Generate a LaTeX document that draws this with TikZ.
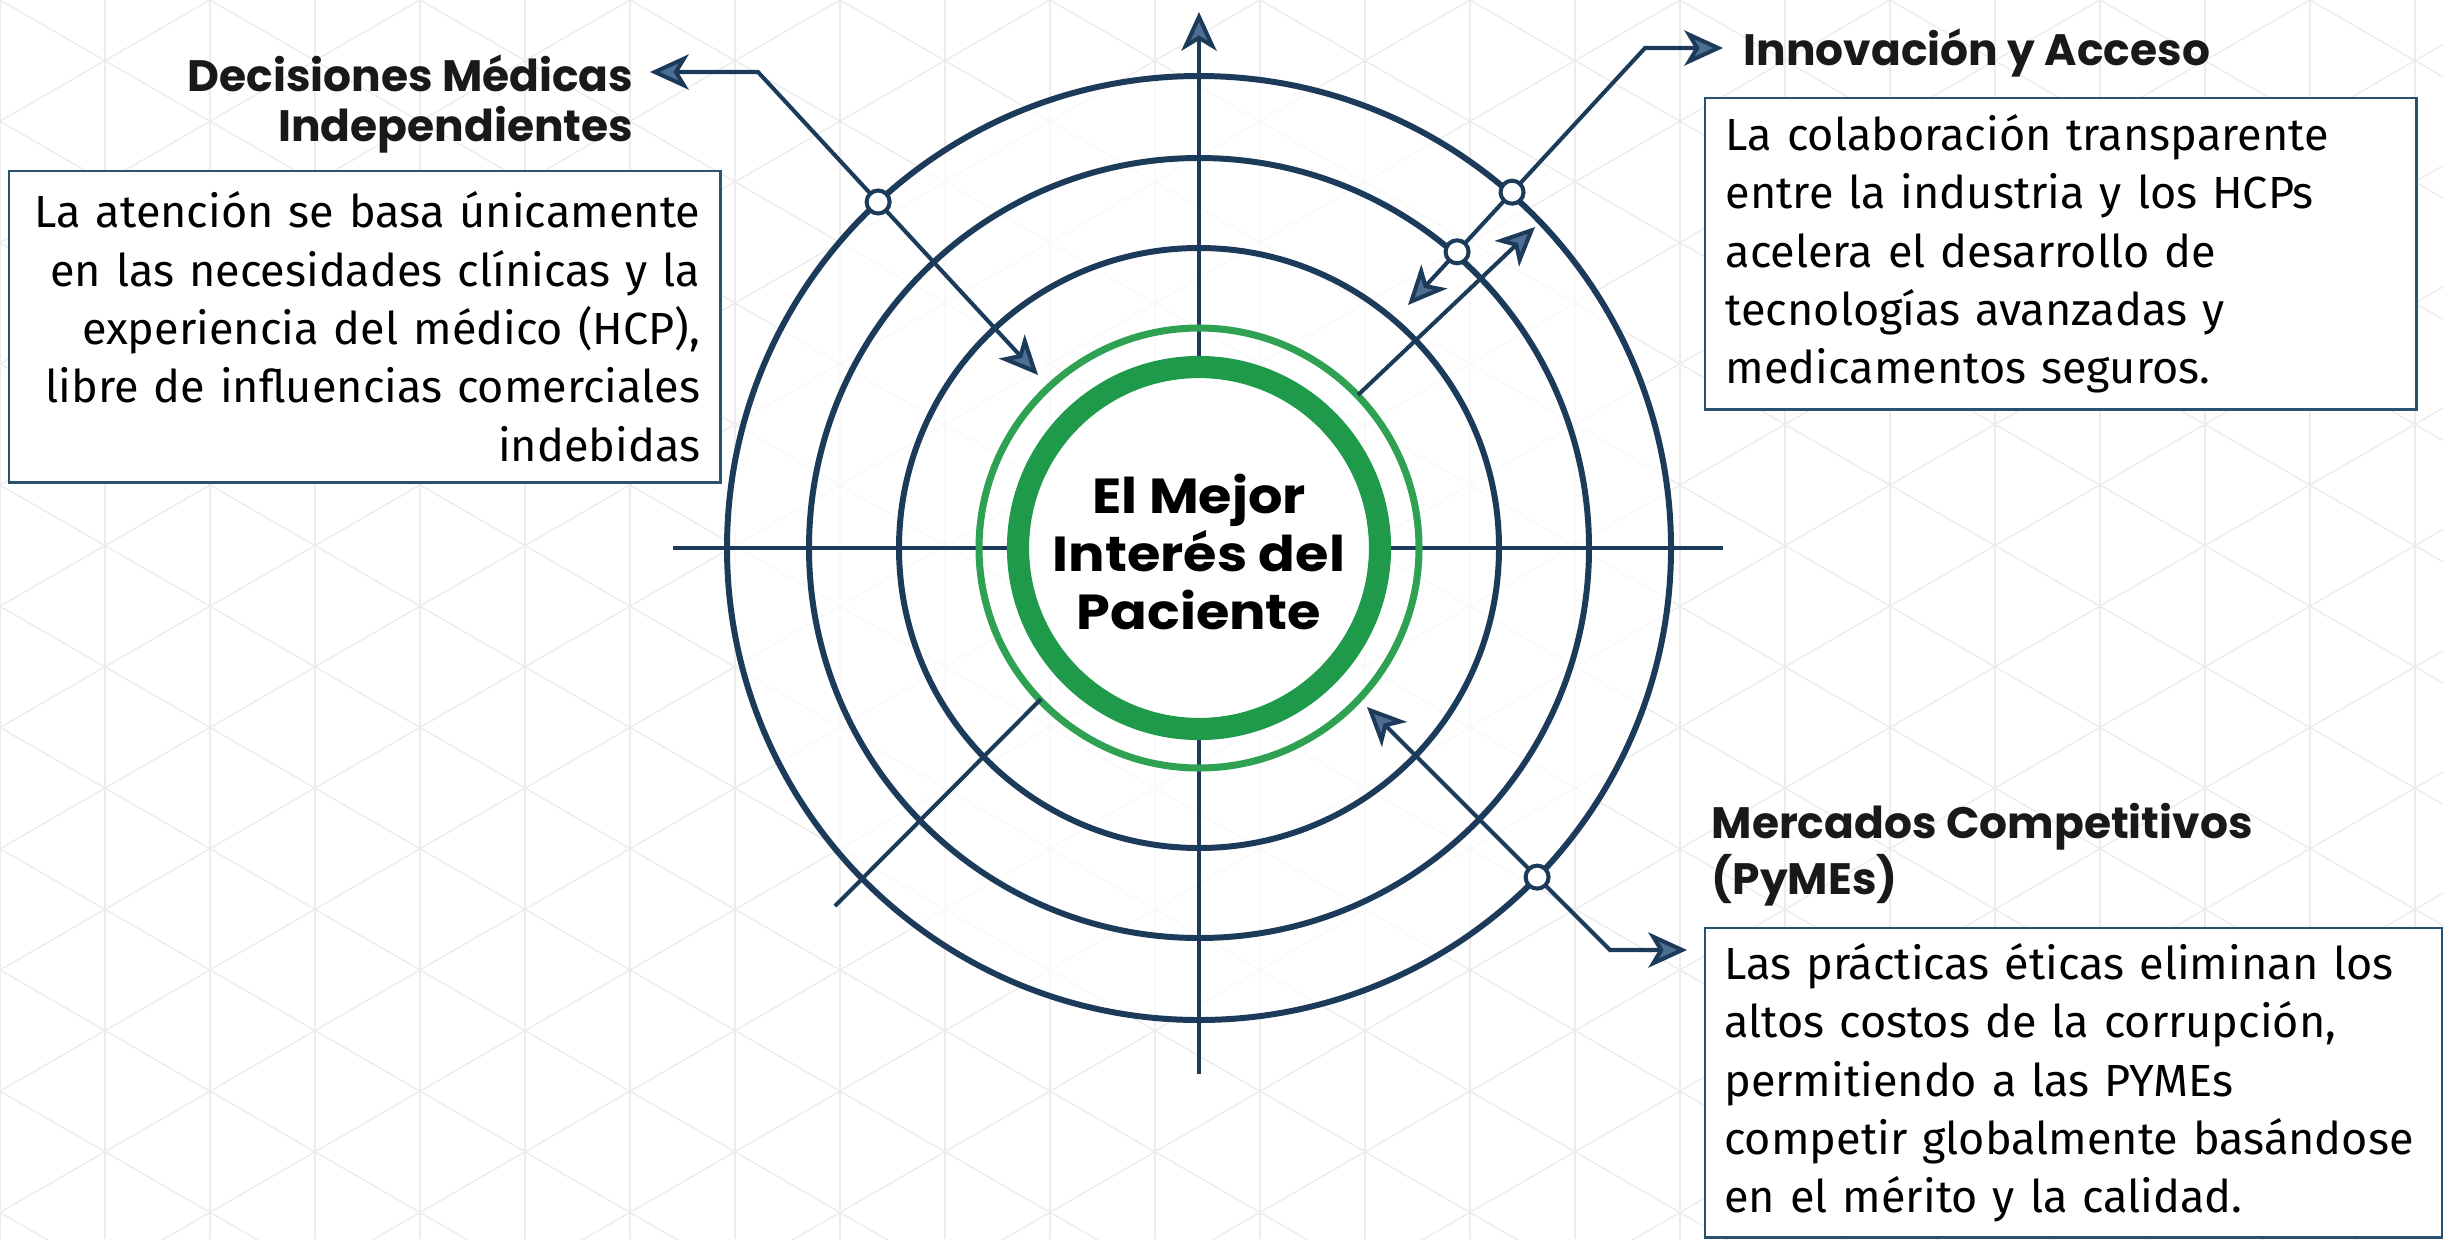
\documentclass[tikz,border=0pt]{standalone}
\usepackage{fontspec}
\setmainfont{Fira Sans}
\newfontfamily\headfont{Poppins}
\newfontfamily\corefont[FakeStretch=1.1]{Poppins}
\usetikzlibrary{arrows.meta}
\usetikzlibrary{calc}
\definecolor{navy}{RGB}{28,59,90}
\definecolor{tipfill}{RGB}{78,111,145}
\definecolor{boxline}{RGB}{40,82,112}
\definecolor{mgreen}{RGB}{31,154,74}
\definecolor{lgreen}{RGB}{46,162,82}
\definecolor{gridgray}{RGB}{236,236,236}
\tikzset{endarrow/.style = {-{Stealth[length=11pt, width=10pt, inset=3pt, fill=tipfill]}}}
\tikzset{duoarrow/.style = {{Stealth[length=11pt, width=10pt, inset=3pt, fill=tipfill]}-{Stealth[length=11pt, width=10pt, inset=3pt, fill=tipfill]}}}
\tikzset{navyring/.style = {draw=navy, line width=1.7pt}}
\tikzset{axisline/.style = {draw=navy, line width=1.15pt}}
\tikzset{linkline/.style = {draw=navy, line width=1.15pt}}
\tikzset{holemark/.style = {circle, draw=navy, fill=white, line width=1.15pt,
                            minimum size=2.3mm, inner sep=0pt}}
\tikzset{infobox/.style = {draw=boxline, line width=0.7pt, fill=white, inner xsep=2.05mm,
                           inner ysep=0pt, text width=67mm,
                           font=\fontsize{12.8}{16.6}\selectfont}}
\tikzset{headtext/.style = {inner sep=0pt, text=black!90,
                            font=\headfont\bfseries\fontsize{12.5}{14.2}\selectfont}}
\tikzset{coretext/.style = {inner sep=0pt, align=center, text=black,
                            font=\corefont\bfseries\fontsize{14}{16.6}\selectfont}}

\begin{document}
\begin{tikzpicture}[x=0.01cm, y=-0.01cm]
  \useasboundingbox (0,0) rectangle (2443,1239);
  % faint lattice behind everything
  \begin{scope}
    \clip (0,0) rectangle (2443,1239);
    \foreach \k in {0,...,23}
      \draw [gridgray, line width=0.4pt] (\k*105, 0) -- ++(0, 1239);
    \foreach \n in {-12,...,22} {
      \draw [gridgray, line width=0.4pt] (0, \n*121.24) -- ++(2443, 1410.5);
      \draw [gridgray, line width=0.4pt] (0, \n*121.24) -- ++(2443, -1410.5);
    }
  \end{scope}

  \coordinate (c) at (1199,548);
  \fill [white, opacity=0.7] (c) circle (475);

  % axes
  \coordinate (vtop) at (1199,12);
  \coordinate (vbot) at (1199,1074);
  \coordinate (hleft) at (673,548);
  \coordinate (hright) at (1723,548);
  \draw [axisline, endarrow] (vbot) -- (vtop);
  \draw [axisline] (hleft) -- (hright);

  % rings
  \foreach \r in {300, 390, 472}
    \draw [navyring] (c) circle (\r);
  \fill [white] (c) circle (175);
  \draw [mgreen, line width=6.3pt] (c) circle (181);
  \draw [lgreen, line width=2pt] (c) circle (220);

  \node [coretext, anchor=north] (core) at (1199,473) {El Mejor\\Interés del\\Paciente};

  % plain spokes
  \coordinate (swend) at (835,906);
  \coordinate (swring) at (1041,699);
  \draw [linkline] (swend) -- (swring);
  \coordinate (nering) at (1358,395);
  \coordinate (neup) at (1535,227);
  \draw [linkline, endarrow] (nering) -- (neup);

  % boxes and headings
  \node [infobox, align=right, anchor=north west, minimum height=31.1mm] (decbox) at (8,170)
    {La atención se basa únicamente\\
     en las necesidades clínicas y la\\
     experiencia del médico (HCP),\\
     libre de influencias comerciales\\
     indebidas};
  \node [infobox, align=left, anchor=north west, minimum height=31.1mm] (innobox) at (1704,97)
    {La colaboración transparente\\
     entre la industria y los HCPs\\
     acelera el desarrollo de\\
     tecnologías avanzadas y\\
     medicamentos seguros.};
  \node [infobox, align=left, anchor=north west, minimum height=30.9mm,
         text width=69.9mm, inner xsep=1.9mm] (mercbox) at (1704,927)
    {Las prácticas éticas eliminan los\\
     altos costos de la corrupción,\\
     permitiendo a las PYMEs\\
     competir globalmente basándose\\
     en el mérito y la calidad.};

  \node [headtext, align=right, anchor=north east] (dech) at (634,54)
    {Decisiones Médicas\\Independientes};
  \node [headtext, anchor=north west] (innoh) at (1743,28) {Innovación y Acceso};
  \node [headtext, align=left, anchor=north west] (merch) at (1711,803)
    {Mercados Competitivos\\(PyMEs)};

  % callout connectors
  \coordinate (nwin) at (1038,375);
  \coordinate (nwbend) at (758,72);
  \coordinate (nwout) at (650,72);
  \draw [linkline, duoarrow] (nwin) -- (nwbend) -- (nwout);
  \node [holemark] (nw1) at ($(nwbend)!0.429!(nwin)$) {};

  \coordinate (nein) at (1408,305);
  \coordinate (nebend) at (1645,48);
  \coordinate (neout) at (1723,48);
  \draw [linkline, duoarrow] (nein) -- (nebend) -- (neout);
  \node [holemark] (ne1) at ($(nebend)!0.561!(nein)$) {};
  \node [holemark] (ne2) at ($(nebend)!0.793!(nein)$) {};

  \coordinate (sein) at (1367,707);
  \coordinate (sebend) at (1610,950);
  \coordinate (seout) at (1687,950);
  \draw [linkline, duoarrow] (sein) -- (sebend) -- (seout);
  \node [holemark] (se1) at ($(sebend)!0.30!(sein)$) {};
\end{tikzpicture}
\end{document}
